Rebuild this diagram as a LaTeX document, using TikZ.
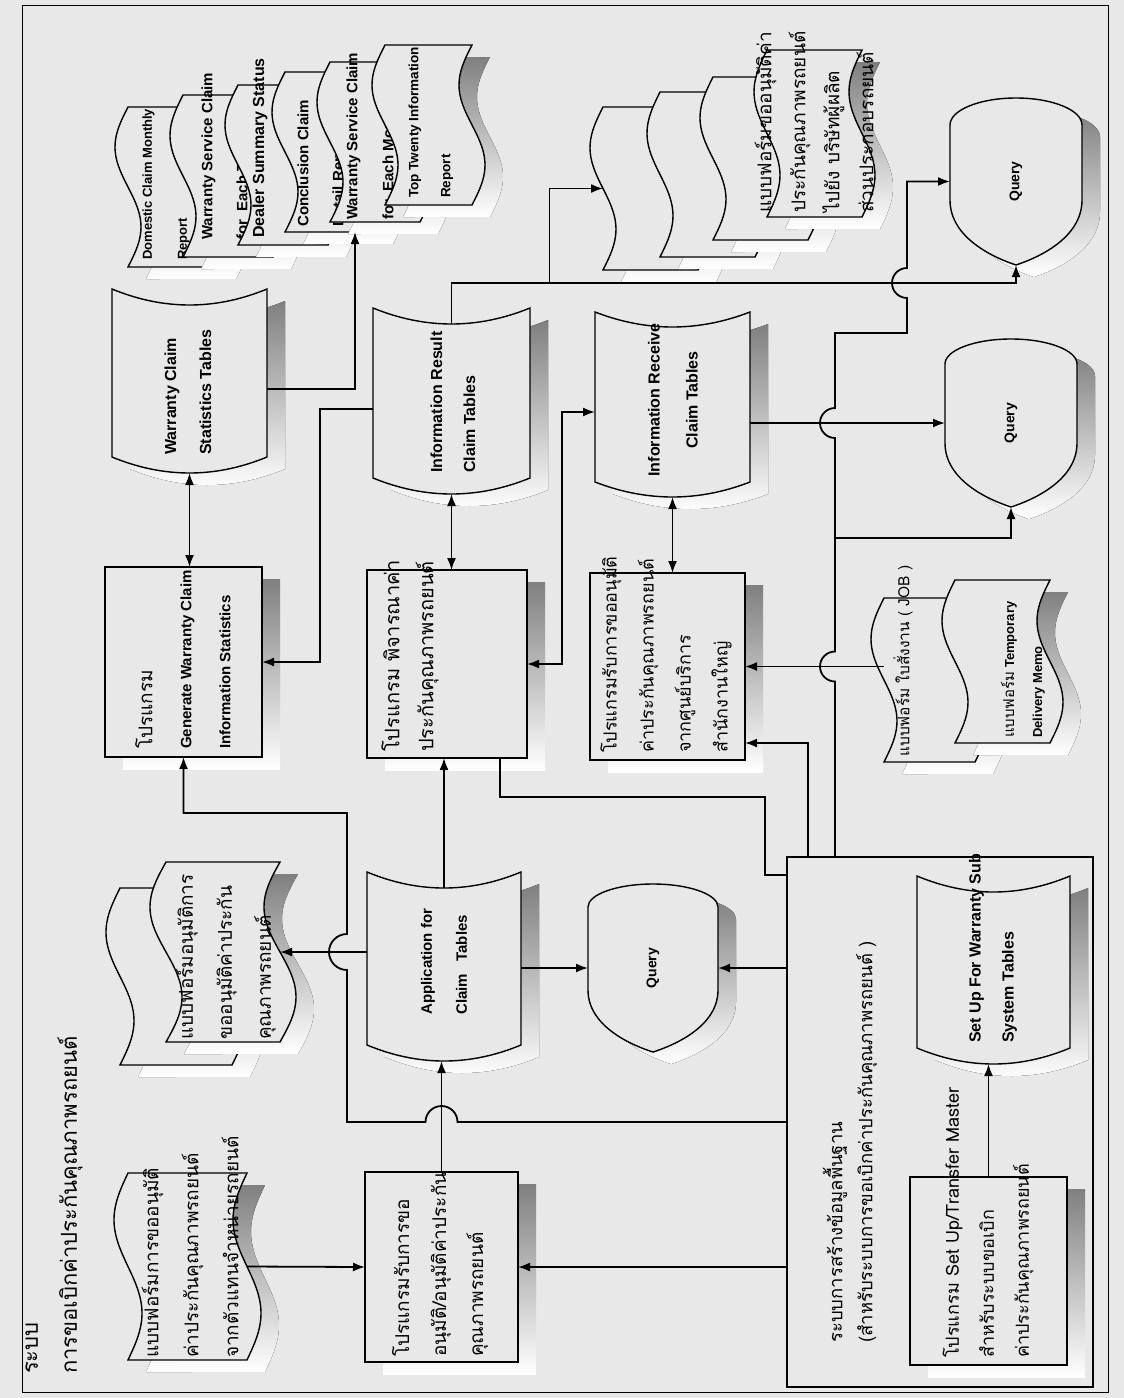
\documentclass[tikz,border=0pt]{standalone}
\usepackage{fontspec}
\setmainfont{Liberation Sans}
\newfontfamily\thai[Script=Thai]{Loma}
\usetikzlibrary{arrows.meta}

\definecolor{paper}{gray}{0.91}
\definecolor{shade}{gray}{0.72}

\tikzset{
  outl/.style={draw, line width=1.4pt, fill=paper},
  hold/.style={inner sep=0pt, outer sep=0pt},
  lbl/.style={rotate=90, anchor=west, align=left, inner sep=0pt},
  conn/.style={line width=1.8pt},
  arr/.style={conn, -{Latex[length=12pt,width=9pt]}},
  dbl/.style={conn, {Latex[length=12pt,width=9pt]}-{Latex[length=12pt,width=9pt]}},
  th/.style={font=\thai\fontsize{19}{#1}\selectfont},
  en/.style 2 args={font=\bfseries\fontsize{#1}{#2}\selectfont},
}

% english words inside a thai line
\newcommand{\eng}[1]{{\rmfamily\bfseries\fontsize{15}{18}\selectfont #1}}

% invisible node over a shape: name, xl, xr, yt, yb
\newcommand{\holdnode}[5]{%
  \pgfmathsetmacro\hw{#3-#2}\pgfmathsetmacro\hh{#5-#4}%
  \pgfmathsetmacro\hx{(#2+#3)/2}\pgfmathsetmacro\hy{(#4+#5)/2}%
  \node[hold, minimum width=\hw pt, minimum height=\hh pt] (#1) at (\hx,\hy) {};}

% process box
\newcommand{\procbox}[5]{%
  \fill[shade] ({#2+18},{#4+12}) rectangle ({#3+18},{#5+12});
  \draw[outl] (#2,#4) rectangle (#3,#5);
  \holdnode{#1}{#2}{#3}{#4}{#5}}

% wavy document
\newcommand{\wavepath}[5]{(#1,#3) -- (#2,#3)
  -- plot[domain=0:1,samples=40,smooth] ({#2-#5*sin(360*\x)},{#3+(#4-#3)*\x})
  -- plot[domain=1:0,samples=40,smooth] ({#1-#5*sin(360*\x)},{#3+(#4-#3)*\x}) -- cycle}
\newcommand{\docshape}[6]{%
  \begin{scope}[shift={(18,12)}]
    \fill[shade] \wavepath{#2}{#3}{#4}{#5}{#6};
  \end{scope}
  \draw[outl] \wavepath{#2}{#3}{#4}{#5}{#6};
  \holdnode{#1}{#2}{#3}{#4}{#5}}

% stored data (tables)
\newcommand{\storepath}[5]{(#1,#3)
  .. controls ({#1+(#2-#1)/3},{#3+4*#5/3}) and ({#2-(#2-#1)/3},{#3+4*#5/3}) .. (#2,#3)
  -- (#2,#4)
  .. controls ({#2-(#2-#1)/3},{#4+4*#5/3}) and ({#1+(#2-#1)/3},{#4+4*#5/3}) .. (#1,#4) -- cycle}
\newcommand{\storeshape}[6]{%
  \begin{scope}[shift={(18,12)}]
    \fill[shade] \storepath{#2}{#3}{#4}{#5}{#6};
  \end{scope}
  \draw[outl] \storepath{#2}{#3}{#4}{#5}{#6};
  \pgfmathsetmacro\sta{#4+#6}\pgfmathsetmacro\stb{#5+#6}%
  \holdnode{#1}{#2}{#3}{\sta}{\stb}}

% display (query): xl, xr, ytop, yside, ybend, ybot
\newcommand{\disppath}[6]{(#1,#4)
  arc[start angle=180,end angle=0,x radius=\drx pt,y radius=\dry pt] -- (#2,#5)
  .. controls (#2,{#5+0.6*(#6-#5)}) and ({(#1+#2)/2+0.15*(#2-#1)},{#6-0.1*(#6-#5)}) .. ({(#1+#2)/2},#6)
  .. controls ({(#1+#2)/2-0.15*(#2-#1)},{#6-0.1*(#6-#5)}) and (#1,{#5+0.6*(#6-#5)}) .. (#1,#5) -- cycle}
\newcommand{\dispshape}[7]{%
  \pgfmathsetmacro\drx{(#3-#2)/2}\pgfmathsetmacro\dry{#5-#4}%
  \begin{scope}[shift={(18,12)}]
    \fill[shade] \disppath{#2}{#3}{#4}{#5}{#6}{#7};
  \end{scope}
  \draw[outl] \disppath{#2}{#3}{#4}{#5}{#6}{#7};
  \holdnode{#1}{#2}{#3}{#4}{#7}}

\begin{document}
\begin{tikzpicture}[x=1pt,y=-1pt]
\fill[paper] (0,0) rectangle (1124,1398);
\useasboundingbox (0,0) rectangle (1124,1398);
\draw[line width=1pt] (22,5) rectangle (1108,1392);

\node[lbl, font=\thai\fontsize{22}{39}\selectfont] (title) at (54,1374)
  {ระบบ\\การขอเบิกค่าประกันคุณภาพรถยนต์};

% base data system
\draw[line width=1.4pt] (787,857) rectangle (1093,1387);
\holdnode{base}{787}{1093}{857}{1387}
\node[lbl, font=\thai\fontsize{18.5}{30}\selectfont] (base-t) at (850,1343)
  {ระบบการสร้างข้อมูลพื้นฐาน\\(สำหรับระบบการขอเบิกค่าประกันคุณภาพรถยนต์ )};
\storeshape{settab}{917}{1070}{876}{1048}{16}
\node[lbl, en={16}{33}] (settab-t) at (993,1043) {Set Up For Warranty Sub\\System Tables};
\procbox{setprog}{910}{1067}{1177}{1365}
\node[lbl, font=\thai\fontsize{18}{35}\selectfont] (setprog-t) at (988,1358)
  {โปรแกรม Set Up/Transfer Master\\สำหรับระบบขอเบิก\\ค่าประกันคุณภาพรถยนต์};

% request side
\docshape{docapp}{128}{247}{1173}{1360}{14}
\node[lbl, th=40] (docapp-t) at (190,1358)
  {แบบฟอร์มการขออนุมัติ\\ค่าประกันคุณภาพรถยนต์\\จากตัวแทนจำหน่ายรถยนต์};
\procbox{getprog}{365}{518}{1172}{1362}
\node[lbl, th=37] (getprog-t) at (440,1357)
  {โปรแกรมรับการขอ\\อนุมัติ/อนุมัติค่าประกัน\\คุณภาพรถยนต์};
\docshape{docback}{120}{232}{888}{1065}{14}
\docshape{docfront}{166}{280}{862}{1042}{16}
\node[lbl, th=39] (docfront-t) at (226,1040)
  {แบบฟอร์มอนุมัติการ\\ขออนุมัติค่าประกัน\\คุณภาพรถยนต์};
\storeshape{apptab}{367}{521}{872}{1045}{16}
\node[lbl, en={15}{35}] (apptab-t) at (444,1015) {Application for\\Claim\ \ \ Tables};
\dispshape{query1}{588}{718}{884}{907}{990}{1052}
\node[rotate=90, en={14}{16}] (query1-t) at (query1) {Query};

% statistics
\procbox{gen}{105}{262}{567}{757}
\node[lbl, th=39] (gen-t) at (183,749)
  {โปรแกรม\\\eng{Generate Warranty Claim}\\\eng{Information Statistics}};
\storeshape{wcs}{112}{267}{289}{457}{16}
\node[lbl, en={16}{35}] (wcs-t) at (188,455) {Warranty Claim\\Statistics Tables};

% reports
\docshape{rep1}{128}{218}{107}{267}{13}
\node[lbl, en={13}{35}] (rep1-t) at (166,260) {Domestic Claim Monthly\\Report};
\docshape{rep2}{183}{273}{95}{257}{13}
\node[lbl, en={15}{35}] (rep2-t) at (226,240) {Warranty Service Claim\\for\ \ Each Type};
\docshape{rep3}{238}{328}{85}{245}{13}
\node[lbl, en={16}{35}] (rep3-t) at (260,238) {Dealer Summary Status};
\docshape{rep4}{285}{375}{72}{232}{13}
\node[lbl, en={15}{35}] (rep4-t) at (322,227) {Conclusion Claim\\Detail Report};
\docshape{rep5}{330}{420}{62}{222}{13}
\node[lbl, en={15}{36}] (rep5-t) at (370,220) {Warranty Service Claim\\for\ \ Each Month};
\docshape{rep6}{385}{472}{45}{205}{13}
\node[lbl, en={13.5}{32}] (rep6-t) at (431,198) {Top Twenty Information\\Report};

% judgement
\procbox{judge}{367}{527}{570}{758}
\node[lbl, font=\thai\fontsize{20}{34}\selectfont] (judge-t) at (410,752)
  {โปรแกรม พิจารณาค่า\\ประกันคุณภาพรถยนต์};
\storeshape{restab}{373}{530}{308}{478}{16}
\node[lbl, en={16}{33}] (restab-t) at (453,473) {Information Result\\Claim Tables};

% receive
\procbox{recvprog}{590}{745}{573}{760}
\node[lbl, font=\thai\fontsize{18}{37}\selectfont] (recvprog-t) at (666,753)
  {โปรแกรมรับการขออนุมัติ\\ค่าประกันคุณภาพรถยนต์\\จากศูนย์บริการ\\สำนักงานใหญ่};
\storeshape{recvtab}{595}{750}{312}{482}{15}
\node[rotate=90, align=center, inner sep=0pt, en={16}{38}] (recvtab-t) at (673,400)
  {Information Receive\\Claim Tables};

% forms to the makers
\docshape{form1}{603}{698}{107}{270}{13}
\docshape{form2}{660}{755}{92}{257}{13}
\docshape{form3}{713}{808}{77}{240}{13}
\docshape{form4}{767}{862}{50}{217}{13}
\node[lbl, th=34] (form4-t) at (814,213)
  {แบบฟอร์มขออนุมัติค่า\\ประกันคุณภาพรถยนต์\\ไปยัง บริษัทผู้ผลิต\\ส่วนประกอบรถยนต์};

\docshape{job}{884}{975}{598}{762}{13}
\node[lbl, font=\thai\fontsize{15.5}{30}\selectfont] (job-t) at (903,757)
  {แบบฟอร์ม ใบสั่งงาน ( JOB )};
\docshape{tmemo}{955}{1050}{580}{743}{13}
\node[lbl, en={13}{28}] (tmemo-t) at (1023,738)
  {{\thai\mdseries\fontsize{15}{28}\selectfont แบบฟอร์ม} Temporary\\Delivery Memo};

\dispshape{query2}{945}{1077}{339}{364}{443}{507}
\node[rotate=90, en={14}{16}] (query2-t) at (query2) {Query};
\dispshape{query3}{950}{1082}{98}{125}{200}{265}
\node[rotate=90, en={14}{16}] (query3-t) at (query3) {Query};

% connectors
\draw[arr] (docapp.east) -- (getprog.west);
\draw[arr] (getprog.east -| base.west) -- (getprog.east);
\draw[arr] (getprog.north) -- (getprog.north |- apptab.south);
\draw[arr] (apptab.north) -- (apptab.north |- judge.south);
\draw[arr] (query1.west -| apptab.east) -- (query1.west);
\draw[arr] (query1.east -| base.west) -- (query1.east);
\draw[arr] (docfront.east -| apptab.west) -- (docfront.east);
\draw[arr] (base.west) -- (457.5,1122) arc[start angle=0,end angle=180,radius=16pt]
  -- (347,1122) -- (347,970) arc[start angle=-90,end angle=-270,radius=18pt]
  -- (347,813) -| (gen.south);
\draw[dbl] (wcs.south) -- (wcs.south |- gen.north);
\draw[arr] (wcs.east) -| ([xshift=25pt]rep4.south);
\draw[arr] (restab.west) -- ++(-53,0) |- (gen.east);
\draw[dbl] (restab.south) -- (restab.south |- judge.north);
\draw[dbl] (judge.east) -- ++(35,0) |- (recvtab.west);
\draw[dbl] (recvtab.south) -- (recvtab.south |- recvprog.north);
\coordinate (split) at ([shift={(98,-41)}]restab.north);
\draw[arr] (restab.north) |- (split) -| (query3.south);
\draw[arr] (split) |- (form1.west);
\draw[arr] (query2.west -| recvtab.east) -- (query2.west);
\draw[arr] (recvprog.east -| job.west) -- (recvprog.east);
\draw[arr] ([xshift=21pt]base.north west) |- ([yshift=17pt]recvprog.south east);
\draw[arr] ([xshift=48pt]base.north west) -- (835,681.5)
  arc[start angle=-90,end angle=-270,radius=15pt] -- (835,438)
  arc[start angle=-90,end angle=-270,radius=15pt] -- (835,333) -- (907,333) -- (907,298)
  arc[start angle=-90,end angle=-270,radius=15pt] |- (query3.west);
\coordinate (busq) at ([shift={(48,-319)}]base.north west);
\draw[arr] (busq) -| (query2.south);
\draw[conn] ([xshift=-27pt]judge.south east) -- ++(0,39) -- ++(265,0)
  |- ([yshift=-18pt]base.north west);
\draw[arr] (setprog.north) -- (setprog.north |- settab.south);
\end{tikzpicture}
\end{document}
